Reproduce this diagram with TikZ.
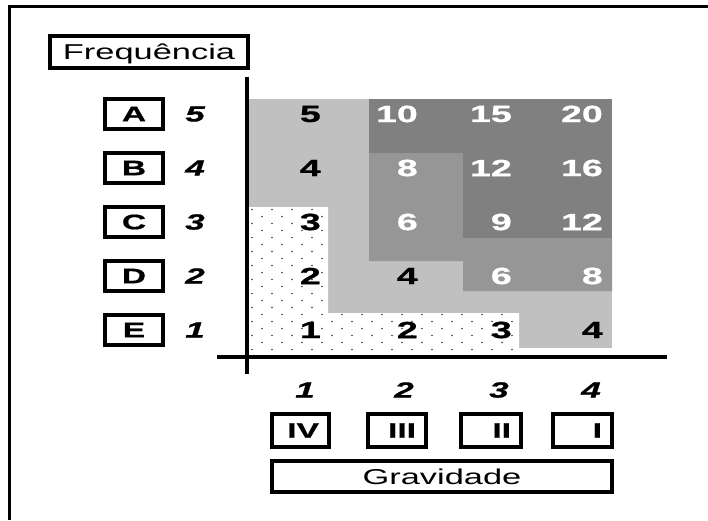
\documentclass[tikz,border=0pt]{standalone}
\usepackage{fontspec}
\setmainfont{Liberation Sans}[FakeStretch=1.6, BoldFeatures={FakeBold=0.8}, BoldItalicFeatures={FakeBold=0.8}]
\definecolor{lgray}{HTML}{C0C0C0}
\definecolor{mgray}{HTML}{969696}
\definecolor{dgray}{HTML}{808080}
\definecolor{dotc}{HTML}{404040}
\begin{document}
\begin{tikzpicture}[x=1pt,y=-1pt,
  cellnum/.style={anchor=east, inner sep=0pt, font=\bfseries\fontsize{23.5}{23.5}\selectfont},
  wnum/.style={cellnum, text=white},
  inum/.style={anchor=east, inner sep=0pt, font=\bfseries\itshape\fontsize{22}{22}\selectfont},
  lbox/.style={draw, line width=3.2pt, minimum width=58pt, minimum height=30pt, inner sep=0pt, font=\bfseries\fontsize{21}{21}\selectfont},
  rbox/.style={draw, line width=3.2pt, minimum height=33pt, inner xsep=10pt, inner ysep=0pt, align=right, font=\bfseries\fontsize{21}{21}\selectfont},
  wbox/.style={draw, line width=3.2pt, inner sep=0pt, text height=15pt, text depth=0pt, font=\fontsize{21.5}{21.5}\selectfont},
  axis/.style={line width=3.2pt}
]
\useasboundingbox (0,0) rectangle (708,520);
% frame
\draw[line width=3.2pt] (9.5,520) -- (9.5,6.5) -- (708,6.5);
% coloured regions
\fill[lgray] (249,99) rectangle (612,348);
\fill[mgray] (369,153) -- (463,153) -- (463,238) -- (612,238) -- (612,291) -- (463,291) -- (463,261) -- (369,261) -- cycle;
\fill[dgray] (369,99) rectangle (612,153);
\fill[dgray] (463,153) rectangle (612,238);
\begin{scope}
\clip (249,207) -- (328,207) -- (328,313) -- (519,313) -- (519,353) -- (249,353) -- cycle;
\fill[white] (240,200) rectangle (530,360);
\foreach \j in {0,...,21}{
  \foreach \i in {0,...,14}{
    \fill[dotc] ({252+10*mod(\j,2)+20*\i},{209.5+7*\j}) circle[radius=0.9pt];
  }
}
\end{scope}
% axes
\coordinate (vt) at (247,77);
\coordinate (vb) at (247,374);
\coordinate (hl) at (217,357);
\coordinate (hr) at (667,357);
\draw[axis] (vt) -- (vb);
\draw[axis] (hl) -- (hr);
% frequency label
\node[wbox, minimum width=198pt, minimum height=32pt] (freq) at (149,52) {Frequência};
% row labels
\node[lbox] (rA) at (134,114) {A};
\node[lbox] (rB) at (134,168) {B};
\node[lbox] (rC) at (134,222) {C};
\node[lbox] (rD) at (134,276) {D};
\node[lbox] (rE) at (134,330) {E};
\node[inum] (nA) at (205,114) {5};
\node[inum] (nB) at (205,168) {4};
\node[inum] (nC) at (205,222) {3};
\node[inum] (nD) at (205,276) {2};
\node[inum] (nE) at (205,330) {1};
% cells
\node[cellnum] (a1) at (321,114) {5};
\node[wnum] (a2) at (418,114) {10};
\node[wnum] (a3) at (512,114) {15};
\node[wnum] (a4) at (603,114) {20};
\node[cellnum] (b1) at (321,168) {4};
\node[wnum] (b2) at (418,168) {8};
\node[wnum] (b3) at (512,168) {12};
\node[wnum] (b4) at (603,168) {16};
\node[cellnum] (c1) at (321,222) {3};
\node[wnum] (c2) at (418,222) {6};
\node[wnum] (c3) at (512,222) {9};
\node[wnum] (c4) at (603,222) {12};
\node[cellnum] (d1) at (321,276) {2};
\node[cellnum] (d2) at (418,276) {4};
\node[wnum] (d3) at (512,276) {6};
\node[wnum] (d4) at (603,276) {8};
\node[cellnum] (e1) at (321,330) {1};
\node[cellnum] (e2) at (418,330) {2};
\node[cellnum] (e3) at (512,330) {3};
\node[cellnum] (e4) at (603,330) {4};
% column numbers
\node[inum] (k1) at (315,390) {1};
\node[inum] (k2) at (414,390) {2};
\node[inum] (k3) at (509,390) {3};
\node[inum] (k4) at (601,390) {4};
% severity boxes
\node[rbox, text width=37pt] (g4) at (300.5,430.5) {IV};
\node[rbox, text width=38pt] (g3) at (397,430.5) {III};
\node[rbox, text width=40pt] (g2) at (491,430.5) {II};
\node[rbox, text width=39pt] (g1) at (582.5,430.5) {I};
\node[wbox, minimum width=340pt, minimum height=31pt] (grav) at (442,476.5) {Gravidade};
\end{tikzpicture}
\end{document}
